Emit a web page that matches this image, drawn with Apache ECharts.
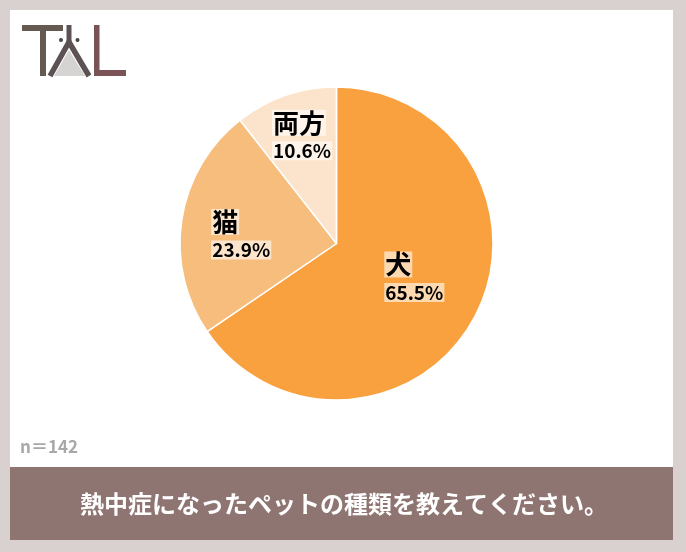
<!DOCTYPE html>
<html>
<head>
<meta charset="utf-8">
<script src="https://cdn.jsdelivr.net/npm/echarts@6/dist/echarts.min.js"></script>
<style>
html,body{margin:0;padding:0;background:#d9d1cf;}
#chart{width:686px;height:552px;}
</style>
</head>
<body>
<div id="chart"></div>
<script>
// ---- data ----
var categories = ['犬', '猫', '両方'];
var counts = [93, 34, 15];           // n = 142 → 65.5%, 23.9%, 10.6%
var sampleLabel = 'n＝142';
var questionText = '熱中症になったペットの種類を教えてください。';

// ---- styles ----
var sliceColors = ['#F9A13F', '#F7BD7D', '#FCE3CB'];
var labelOffsets = [[6, -3], [-15, 5], [-8, -30]];
var FONT = '"Noto Sans CJK JP", "Noto Sans", sans-serif';

var chart = echarts.init(document.getElementById('chart'), null, {renderer: 'canvas'});

var pieData = categories.map(function (c, i) {
  return { name: c, value: counts[i], itemStyle: { color: sliceColors[i] } };
});

var option = {
  animation: false,
  backgroundColor: '#d9d1cf',
  graphic: [
    { type: 'rect', z: -10, shape: { x: 10, y: 10, width: 663, height: 457 }, style: { fill: '#ffffff' } },
    { type: 'rect', z: -10, shape: { x: 10, y: 467, width: 663, height: 73 }, style: { fill: '#8f7572' } },
    { type: 'text', z: 5, x: 344, y: 504, style: { text: questionText, fill: '#ffffff', font: 'bold 24px ' + FONT, textAlign: 'center', textVerticalAlign: 'middle' } },
    { type: 'text', z: 5, x: 20, y: 447, style: { text: sampleLabel, fill: '#a8a8a8', font: 'bold 17px ' + FONT, textAlign: 'left', textVerticalAlign: 'middle' } },
    // logo "TAL"
    { type: 'rect', shape: { x: 22, y: 25, width: 41, height: 6 }, style: { fill: '#655a52' } },
    { type: 'rect', shape: { x: 40, y: 25, width: 6, height: 51 }, style: { fill: '#655a52' } },
    { type: 'polygon', shape: { points: [[69, 50], [54, 76], [85, 76]] }, style: { fill: '#d6d3d3' } },
    { type: 'rect', shape: { x: 66.5, y: 25, width: 5, height: 17 }, style: { fill: '#5c5254' } },
    { type: 'polyline', shape: { points: [[50, 76], [69, 42], [89, 76]] }, style: { stroke: '#5c5254', lineWidth: 5.5, fill: null } },
    { type: 'circle', shape: { cx: 61, cy: 40, r: 2 }, style: { fill: '#4a4345' } },
    { type: 'circle', shape: { cx: 77.5, cy: 40, r: 2 }, style: { fill: '#4a4345' } },
    { type: 'rect', shape: { x: 94, y: 25, width: 5.5, height: 51 }, style: { fill: '#7a5357' } },
    { type: 'rect', shape: { x: 94, y: 70, width: 32, height: 6 }, style: { fill: '#7a5357' } }
  ],
  series: [{
    type: 'pie',
    center: [336.5, 243.5],
    radius: 156.5,
    startAngle: 90,
    clockwise: true,
    percentPrecision: 1,
    silent: true,
    itemStyle: { borderColor: '#ffffff', borderWidth: 1.5 },
    label: {
      show: true,
      position: 'inside',
      align: 'left',
      color: '#000',
      formatter: '{n|{b}}\n{v|{d}%}',
      rich: {
        n: { align: 'left', fontFamily: FONT, fontWeight: 'bold', fontSize: 26, lineHeight: 28, color: '#000', backgroundColor: 'rgba(255,255,255,0.6)', padding: [0, 1, 0, 1] },
        v: { align: 'left', fontFamily: FONT, fontWeight: 'bold', fontSize: 19, lineHeight: 28, color: '#000', backgroundColor: 'rgba(255,255,255,0.6)', padding: [0, 1, 0, 1] }
      }
    },
    labelLine: { show: false },
    labelLayout: function (params) {
      var o = labelOffsets[params.dataIndex];
      return { dx: o[0], dy: o[1] };
    },
    data: pieData
  }]
};
chart.setOption(option);
</script>
</body>
</html>
